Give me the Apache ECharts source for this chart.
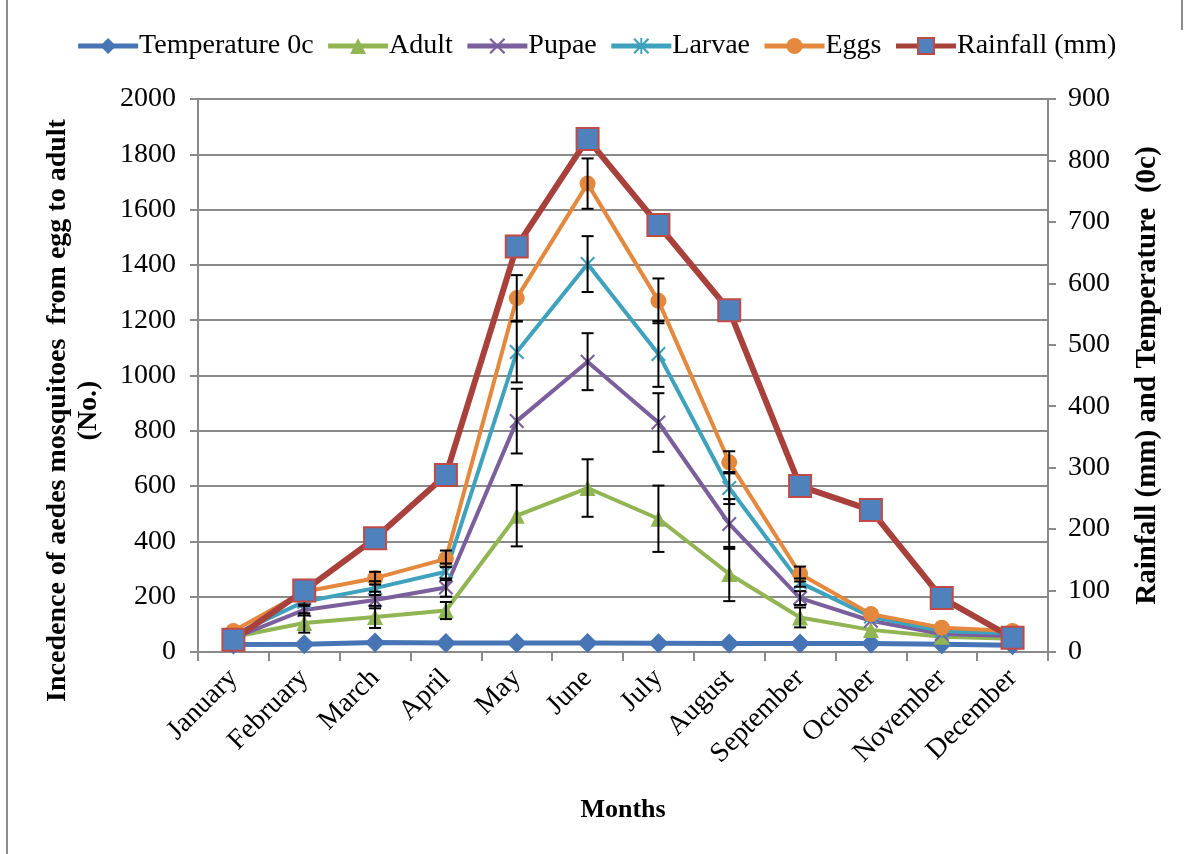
<!DOCTYPE html>
<html>
<head>
<meta charset="utf-8">
<title>Aedes mosquito incidence, rainfall and temperature</title>
<script src="https://cdn.jsdelivr.net/npm/echarts@6/dist/echarts.min.js"></script>
<style>
  html, body { margin: 0; padding: 0; background: #ffffff; }
  #chart { width: 1192px; height: 854px; }
</style>
</head>
<body>
<div id="chart"></div>
<script>
// Monthly counts of aedes mosquitoes by life stage, with rainfall and temperature
const months = ['January', 'February', 'March', 'April', 'May', 'June',
  'July', 'August', 'September', 'October', 'November', 'December'];

const temperature = [27, 28, 34, 33, 33, 33, 32, 31, 31, 31, 28, 24];
const adult  = [54, 105, 127, 150, 493, 593, 482, 282, 125, 80, 55, 48];
const pupae  = [50, 152, 188, 233, 835, 1050, 830, 463, 195, 113, 65, 58];
const larvae = [62, 182, 231, 290, 1085, 1403, 1078, 593, 251, 128, 76, 68];
const eggs   = [76, 218, 267, 337, 1280, 1694, 1270, 686, 282, 137, 88, 76];
const rainfall = [20, 100, 185, 288, 660, 835, 695, 556, 270, 231, 88, 23];

// standard error of each stage count (same units as the counts)
const adultErr  = [0, 35, 40, 31, 111, 104, 120, 98, 36, 0, 0, 0];
const pupaeErr  = [0, 20, 30, 33, 117, 103, 106, 90, 25, 0, 0, 0];
const larvaeErr = [0, 15, 25, 30, 110, 101, 119, 58, 15, 0, 0, 0];
const eggsErr   = [0, 15, 23, 30, 83, 91, 81, 40, 27, 0, 0, 0];

const leftTicks = { min: 0, max: 2000, interval: 200 };
const rightTicks = { min: 0, max: 900, interval: 100 };

const FONT = '"Liberation Serif", "Times New Roman", serif';
const GRID_GRAY = '#8a8a8a';

const xMark = 'path://M0 1L1 0L10 9L9 10Z M9 0L10 1L1 10L0 9Z';
const starMark = 'path://M0 1L1 0L10 9L9 10Z M9 0L10 1L1 10L0 9Z M4.4 0L5.6 0L5.6 10L4.4 10Z';

function errorSeries(values, errs) {
  const data = [];
  values.forEach(function (v, i) {
    if (errs[i] > 0) data.push([i, v, errs[i]]);
  });
  return {
    type: 'custom',
    yAxisIndex: 0,
    z: 4,
    silent: true,
    data: data,
    encode: { x: 0, y: 1 },
    renderItem: function (params, api) {
      const i = api.value(0);
      const v = api.value(1);
      const e = api.value(2);
      const hi = api.coord([i, v + e]);
      const lo = api.coord([i, v - e]);
      const w = 6;
      const style = { stroke: '#000000', lineWidth: 2 };
      return {
        type: 'group',
        children: [
          { type: 'line', shape: { x1: hi[0], y1: hi[1], x2: lo[0], y2: lo[1] }, style: style },
          { type: 'line', shape: { x1: hi[0] - w, y1: hi[1], x2: hi[0] + w, y2: hi[1] }, style: style },
          { type: 'line', shape: { x1: lo[0] - w, y1: lo[1], x2: lo[0] + w, y2: lo[1] }, style: style }
        ]
      };
    }
  };
}

function lineSeries(name, data, color, width, symbol, size, extra) {
  return Object.assign({
    name: name,
    type: 'line',
    data: data,
    yAxisIndex: 0,
    symbol: symbol,
    symbolSize: size,
    showAllSymbol: true,
    z: 3,
    lineStyle: { color: color, width: width },
    itemStyle: { color: color, borderWidth: 0 }
  }, extra || {});
}

const chart = echarts.init(document.getElementById('chart'), null, { renderer: 'canvas' });

chart.setOption({
  backgroundColor: '#ffffff',
  animation: false,
  textStyle: { fontFamily: FONT, color: '#000000' },
  legend: {
    top: 27,
    left: 'center',
    itemWidth: 60,
    itemHeight: 20,
    itemGap: 12,
    lineStyle: { width: 5 },
    textStyle: { fontFamily: FONT, fontSize: 28, color: '#000000', padding: [0, 0, 0, -4] },
    data: ['Temperature 0c', 'Adult', 'Pupae', 'Larvae', 'Eggs', 'Rainfall (mm)']
  },
  grid: { left: 198, right: 144, top: 99, bottom: 202, containLabel: false },
  xAxis: {
    type: 'category',
    data: months,
    boundaryGap: true,
    name: 'Months',
    nameLocation: 'middle',
    nameGap: 145,
    nameTextStyle: { fontFamily: FONT, fontSize: 26, fontWeight: 'bold', color: '#000000' },
    axisLine: { lineStyle: { color: GRID_GRAY, width: 2 } },
    axisTick: { show: true, alignWithLabel: false, length: 9, lineStyle: { color: GRID_GRAY, width: 2 } },
    axisLabel: {
      rotate: 45,
      interval: 0,
      margin: 22,
      fontFamily: FONT,
      fontSize: 28,
      color: '#000000'
    },
    splitLine: { show: false }
  },
  yAxis: [
    {
      type: 'value',
      position: 'left',
      min: leftTicks.min,
      max: leftTicks.max,
      interval: leftTicks.interval,
      name: 'Incedence of aedes mosquitoes  from egg to adult\n(No.)',
      nameLocation: 'middle',
      nameRotate: 90,
      nameGap: 94,
      nameTextStyle: {
        fontFamily: FONT, fontSize: 28, fontWeight: 'bold', color: '#000000',
        lineHeight: 31, align: 'center', padding: [0, 70, 0, 0]
      },
      axisLine: { show: true, lineStyle: { color: GRID_GRAY, width: 2 } },
      axisTick: { show: true, length: 8, lineStyle: { color: GRID_GRAY, width: 2 } },
      axisLabel: {
        margin: 22, fontFamily: FONT, fontSize: 28, color: '#000000',
        formatter: function (v) { return String(v); }
      },
      splitLine: { show: true, lineStyle: { color: GRID_GRAY, width: 2 } }
    },
    {
      type: 'value',
      position: 'right',
      min: rightTicks.min,
      max: rightTicks.max,
      interval: rightTicks.interval,
      name: 'Rainfall (mm) and Temperature  (0c)',
      nameLocation: 'middle',
      nameRotate: 90,
      nameGap: 85,
      nameTextStyle: { fontFamily: FONT, fontSize: 29, fontWeight: 'bold', color: '#000000' },
      axisLine: { show: true, lineStyle: { color: GRID_GRAY, width: 2 } },
      axisTick: { show: true, length: 8, lineStyle: { color: GRID_GRAY, width: 2 } },
      axisLabel: {
        margin: 20, fontFamily: FONT, fontSize: 28, color: '#000000',
        formatter: function (v) { return String(v); }
      },
      splitLine: { show: false }
    }
  ],
  series: [
    lineSeries('Temperature 0c', temperature, '#4674b4', 5, 'diamond', 20),
    lineSeries('Adult', adult, '#92b553', 4, 'triangle', 16),
    lineSeries('Pupae', pupae, '#7b5f9d', 4, xMark, 15),
    lineSeries('Larvae', larvae, '#3fa2bd', 4, starMark, 15),
    lineSeries('Eggs', eggs, '#e3883c', 4, 'circle', 16),
    errorSeries(adult, adultErr),
    errorSeries(pupae, pupaeErr),
    errorSeries(larvae, larvaeErr),
    errorSeries(eggs, eggsErr),
    lineSeries('Rainfall (mm)', rainfall, '#a8403b', 6, 'rect', 22, {
      yAxisIndex: 1,
      z: 5,
      itemStyle: { color: '#4f81bd', borderColor: '#be4b48', borderWidth: 2 }
    })
  ],
  graphic: [
    { type: 'line', shape: { x1: 7, y1: 0, x2: 7, y2: 854 }, style: { stroke: '#8c8c8c', lineWidth: 2 }, silent: true },
    { type: 'line', shape: { x1: 1182, y1: 0, x2: 1182, y2: 30 }, style: { stroke: '#8c8c8c', lineWidth: 2 }, silent: true }
  ]
});
</script>
</body>
</html>
